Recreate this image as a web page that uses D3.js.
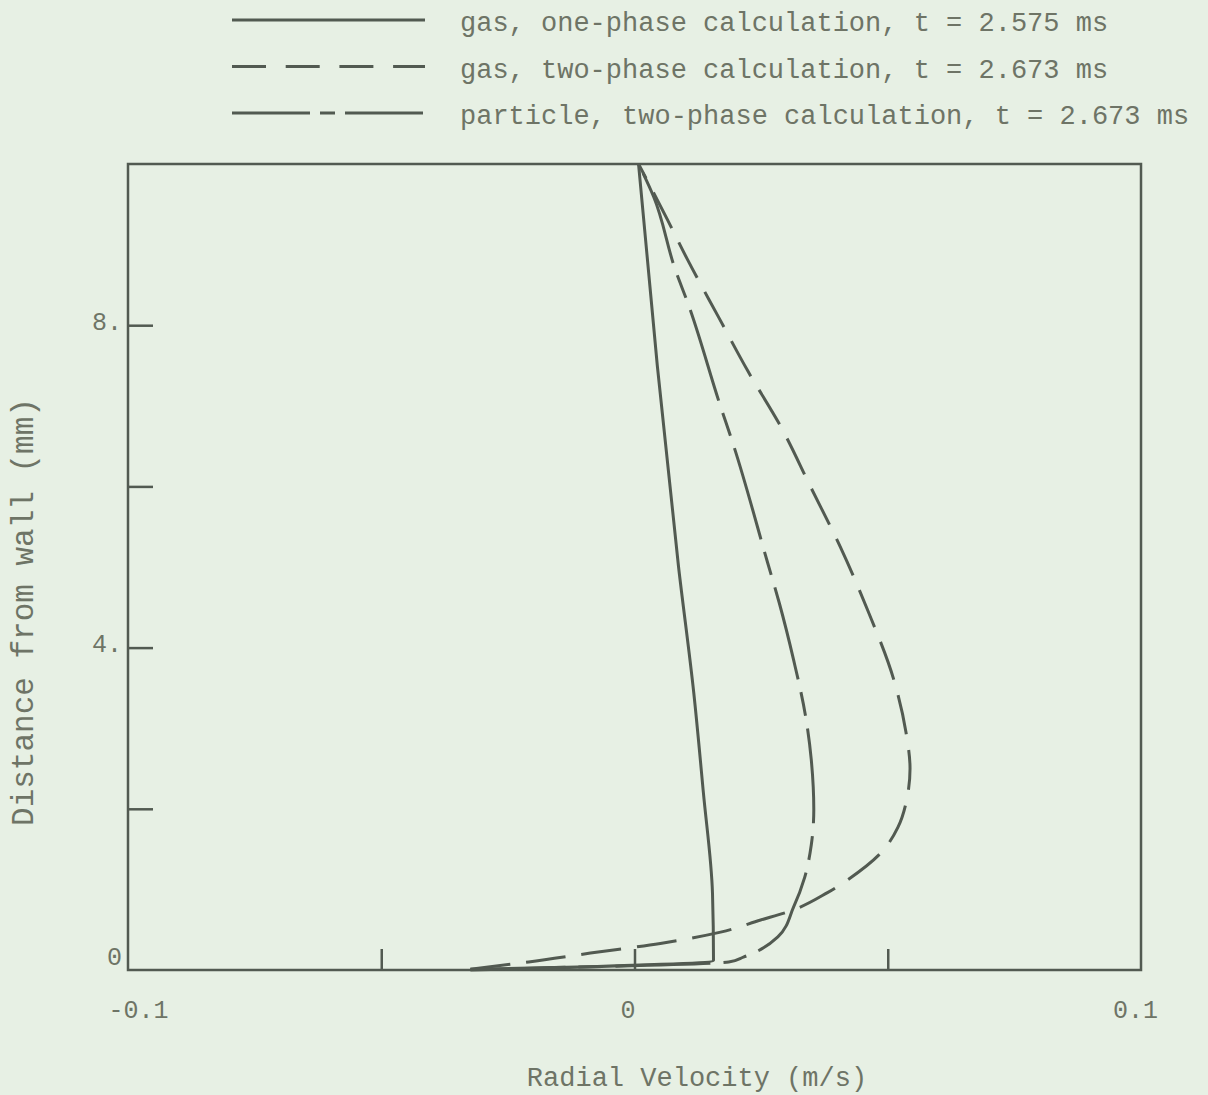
<!DOCTYPE html>
<html>
<head>
<meta charset="utf-8">
<script src="https://cdn.jsdelivr.net/npm/d3@7"></script>
<style>
  body { margin: 0; background: #e7f0e4; }
  svg { display: block; }
  text { font-family: "Liberation Mono", "DejaVu Sans Mono", monospace; fill: #6e7466; }
</style>
</head>
<body>
<div id="chart"></div>
<script>
// series: [radial velocity (m/s), distance from wall (mm)]
var gasOnePhase = [
  [0.0008, 10.0], [0.0045, 7.5], [0.0087, 5.0], [0.0117, 3.44],
  [0.0136, 2.2], [0.0154, 0.95], [0.0156, 0.12], [-0.0324, 0.0]
];
var gasTwoPhase = [
  [0.0008, 10.0], [0.0065, 9.31], [0.0105, 8.81], [0.0166, 8.10], [0.0223, 7.44],
  [0.0289, 6.74], [0.0348, 5.99], [0.0407, 5.24], [0.0460, 4.47], [0.0512, 3.60],
  [0.0536, 2.95], [0.0544, 2.5], [0.0537, 2.1], [0.0520, 1.77], [0.0486, 1.45],
  [0.0421, 1.12], [0.0381, 0.96], [0.0302, 0.72], [0.0249, 0.62], [0.0170, 0.47],
  [0.0051, 0.33], [-0.0087, 0.21], [-0.0209, 0.10], [-0.0324, 0.01]
];
var particleTwoPhase = [
  [0.0008, 10.0], [0.0038, 9.59], [0.0081, 8.68], [0.0105, 8.28], [0.0170, 6.99],
  [0.0194, 6.54], [0.0263, 5.05], [0.0286, 4.55], [0.0314, 3.85], [0.0338, 3.14],
  [0.0349, 2.61], [0.0354, 1.99], [0.0349, 1.55], [0.0336, 1.15], [0.0314, 0.78],
  [0.0283, 0.41], [0.0215, 0.16], [0.0186, 0.10], [-0.0324, 0.01]
];
var legendLabels = [
  "gas, one-phase calculation, t = 2.575 ms",
  "gas, two-phase calculation, t = 2.673 ms",
  "particle, two-phase calculation, t = 2.673 ms"
];
var xLabelTicks = [-0.1, 0, 0.1];
var xMinorTicks = [-0.05, 0, 0.05];
var yLabelTicks = [0, 4, 8];
var yMinorTicks = [2, 4, 6, 8];

var width = 1208, height = 1095;
var ink = "#525a51";
var dashes = ["none", "40,16", "95,13,24,13"];
var legendDashes = ["none", "34,19.7", "78,10,15,10"];

var svg = d3.select("#chart")
  .append("svg")
  .attr("width", width)
  .attr("height", height);

var x = d3.scaleLinear().domain([-0.1, 0.1]).range([128, 1141]);
var y = d3.scaleLinear().domain([0, 10]).range([970, 164]);

// legend
var legend = svg.append("g");
legendLabels.forEach(function (label, i) {
  var ly = 20 + i * 46.5;
  legend.append("line")
    .attr("x1", 232).attr("x2", 425)
    .attr("y1", ly).attr("y2", ly)
    .attr("stroke", ink)
    .attr("stroke-width", 3)
    .attr("stroke-dasharray", legendDashes[i]);
  legend.append("text")
    .attr("x", 460)
    .attr("y", ly + 11)
    .attr("font-size", "27px")
    .text(label);
});

// frame
svg.append("rect")
  .attr("x", x(-0.1))
  .attr("y", y(10))
  .attr("width", x(0.1) - x(-0.1))
  .attr("height", y(0) - y(10))
  .attr("fill", "none")
  .attr("stroke", ink)
  .attr("stroke-width", 2.5);

// inner ticks
var xTickAxis = svg.append("g")
  .attr("transform", "translate(0," + y(0) + ")")
  .call(d3.axisBottom(x).tickValues(xMinorTicks).tickSize(-21).tickFormat(""));
var yTickAxis = svg.append("g")
  .attr("transform", "translate(" + x(-0.1) + ",0)")
  .call(d3.axisLeft(y).tickValues(yMinorTicks).tickSize(-25).tickFormat(""));
[xTickAxis, yTickAxis].forEach(function (a) {
  a.select(".domain").remove();
  a.selectAll("line").attr("stroke", ink).attr("stroke-width", 2.5);
});

// tick labels
var xLab = svg.append("g")
  .attr("transform", "translate(2," + y(0) + ")")
  .call(d3.axisBottom(x).tickValues(xLabelTicks).tickSize(0).tickPadding(30)
    .tickFormat(function (d) { return d === 0 ? "0" : d3.format(".1f")(d).replace("−", "-"); }));
var yLab = svg.append("g")
  .attr("transform", "translate(" + x(-0.1) + ",-4)")
  .call(d3.axisLeft(y).tickValues(yLabelTicks).tickSize(0).tickPadding(6)
    .tickFormat(function (d) { return d === 0 ? "0" : d + "."; }));
[xLab, yLab].forEach(function (a) {
  a.select(".domain").remove();
  a.selectAll("text")
    .attr("font-family", "Liberation Mono, DejaVu Sans Mono, monospace")
    .attr("font-size", "25px")
    .attr("fill", "#6e7466");
});
xLab.selectAll("text").attr("dx", function (d) { return d === 0 ? -9 : d > 0 ? -8 : 8; });
yLab.selectAll("text").attr("dy", function (d) { return d === 0 ? "-0.05em" : "0.32em"; });

// axis titles
svg.append("text")
  .attr("x", 697)
  .attr("y", 1086)
  .attr("text-anchor", "middle")
  .attr("font-size", "27px")
  .text("Radial Velocity (m/s)");

svg.append("text")
  .attr("transform", "translate(33,612) rotate(-90)")
  .attr("text-anchor", "middle")
  .attr("font-size", "31px")
  .text("Distance from wall (mm)");

// curves, interpolated along the distance axis
var line = d3.line()
  .x(function (d) { return x(d[0]); })
  .y(function (d) { return y(d[1]); })
  .curve(d3.curveMonotoneY);

[gasOnePhase, gasTwoPhase, particleTwoPhase].forEach(function (series, i) {
  svg.append("path")
    .datum(series.slice().reverse())
    .attr("d", line)
    .attr("fill", "none")
    .attr("stroke", ink)
    .attr("stroke-width", 3)
    .attr("stroke-dasharray", dashes[i]);
});
</script>
</body>
</html>
